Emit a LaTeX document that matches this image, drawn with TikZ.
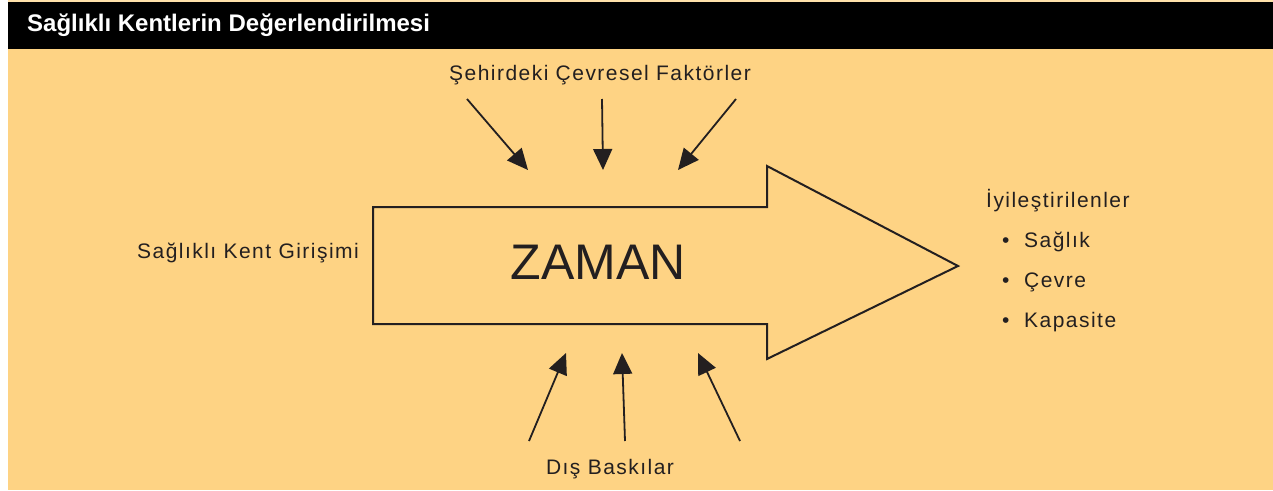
\documentclass[tikz,border=0pt]{standalone}
\usepackage{fontspec}
\setmainfont{Liberation Sans}
\newfontfamily\labfont[LetterSpace=7]{Liberation Sans}
\usetikzlibrary{arrows.meta}
\definecolor{bgorange}{RGB}{254,211,132}
\definecolor{peach}{RGB}{255,225,170}
\definecolor{ink}{RGB}{35,31,32}
\tikzset{
  lbl/.style={text=ink, inner sep=0pt, font=\labfont\fontsize{21}{24}\selectfont},
  push/.style={draw=ink, line width=1.8pt, -{Triangle[length=21pt,width=19pt]}},
}
\begin{document}
\begin{tikzpicture}[x=1pt,y=-1pt]
\useasboundingbox (0,0) rectangle (1273,490);
\fill[white] (0,0) rectangle (1273,490);
\fill[peach] (8,0) rectangle (1273,3);
\fill[bgorange] (8,3) rectangle (1273,490);
\fill[black] (8,2) rectangle (1273,49);
\node[anchor=west, text=white, inner sep=0pt, font=\fontsize{24}{28}\selectfont\bfseries] (title) at (27,25) {Sağlıklı Kentlerin Değerlendirilmesi};

% big arrow
\draw[draw=ink, line width=2pt, line join=miter] (373,207) -- (767,207) -- (767,166) -- (958,266) -- (767,359) -- (767,324) -- (373,324) -- cycle;
\node[text=ink, inner sep=0pt, font=\fontsize{50}{56}\selectfont] (zaman) at (598,262) {ZAMAN};

% labels
\node[lbl] (top) at (600,75) {Şehirdeki Çevresel Faktörler};
\node[lbl, anchor=east] (left) at (359,253) {Sağlıklı Kent Girişimi};
\node[lbl] (bottom) at (610,469) {Dış Baskılar};
\node[lbl, anchor=west] (res) at (986,201) {İyileştirilenler};
\node[lbl, anchor=west] (r1) at (1002,242) {\makebox[22pt][l]{\textbullet}Sağlık};
\node[lbl, anchor=west] (r2) at (1002,282) {\makebox[22pt][l]{\textbullet}Çevre};
\node[lbl, anchor=west] (r3) at (1002,322) {\makebox[22pt][l]{\textbullet}Kapasite};

% top arrows
\coordinate (t1s) at (467,99); \coordinate (t1e) at (528,170);
\coordinate (t2s) at (602,99); \coordinate (t2e) at (603,170);
\coordinate (t3s) at (736,99); \coordinate (t3e) at (678,170);
\draw[push] (t1s) -- (t1e);
\draw[push] (t2s) -- (t2e);
\draw[push] (t3s) -- (t3e);

% bottom arrows
\coordinate (b1s) at (529,441); \coordinate (b1e) at (566,353);
\coordinate (b2s) at (625,441); \coordinate (b2e) at (622,353);
\coordinate (b3s) at (740,441); \coordinate (b3e) at (698,353);
\draw[push] (b1s) -- (b1e);
\draw[push] (b2s) -- (b2e);
\draw[push] (b3s) -- (b3e);
\end{tikzpicture}
\end{document}
